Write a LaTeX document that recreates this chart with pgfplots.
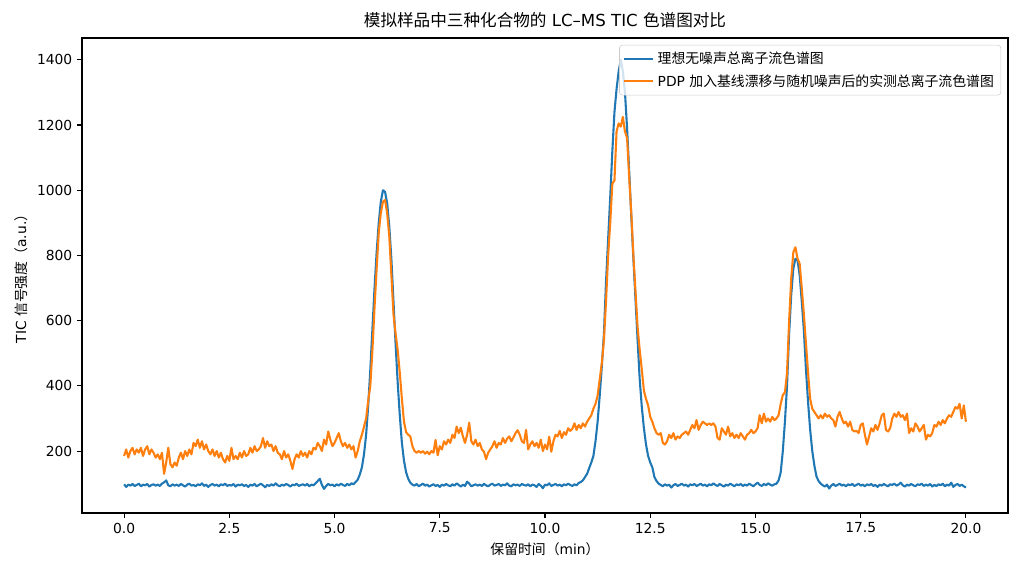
\documentclass[border=0pt]{standalone}
\usepackage{fontspec}
\setmainfont{DejaVu Sans}
\newfontfamily\cjk{Noto Sans CJK SC}
\usepackage{pgfplots}
\usepackage{pgfplotstable}
\pgfplotsset{compat=1.18}
\definecolor{c0}{HTML}{1F77B4}
\definecolor{c1}{HTML}{FF7F0E}
\pgfplotstableread{
x b o
0.00 98 185
0.05 90 205
0.10 97 180
0.15 94 200
0.20 99 210
0.25 93 190
0.30 96 205
0.35 100 195
0.40 92 210
0.45 97 185
0.50 95 205
0.55 99 215
0.60 91 190
0.65 96 205
0.70 98 195
0.75 94 180
0.80 97 190
0.85 93 175
0.90 100 195
0.95 104 130
1.00 110 165
1.05 95 210
1.10 92 160
1.15 98 150
1.20 94 165
1.25 97 155
1.30 93 180
1.35 99 195
1.40 95 175
1.45 91 200
1.50 97 185
1.55 100 205
1.60 94 190
1.65 96 225
1.70 92 215
1.75 98 235
1.80 95 210
1.85 101 230
1.90 93 205
1.95 97 220
2.00 90 200
2.05 96 190
2.10 99 205
2.15 94 185
2.20 97 200
2.25 92 180
2.30 98 195
2.35 95 175
2.40 100 165
2.45 93 185
2.50 96 170
2.55 94 210
2.60 99 175
2.65 91 185
2.70 97 175
2.75 95 195
2.80 98 180
2.85 93 200
2.90 96 185
2.95 90 190
3.00 97 210
3.05 94 195
3.10 99 215
3.15 92 200
3.20 96 205
3.25 100 215
3.30 95 240
3.35 89 210
3.40 96 230
3.45 93 215
3.50 98 220
3.55 94 200
3.60 101 215
3.65 95 195
3.70 92 190
3.75 97 175
3.80 94 200
3.85 99 180
3.90 96 190
3.95 91 170
4.00 97 145
4.05 95 175
4.10 100 190
4.15 93 180
4.20 96 200
4.25 98 185
4.30 94 195
4.35 99 180
4.40 92 200
4.45 97 190
4.50 95 210
4.55 101 205
4.60 108 225
4.65 115 215
4.70 96 200
4.75 84 235
4.80 93 220
4.85 99 260
4.90 95 235
4.95 97 215
5.00 92 225
5.05 98 240
5.10 94 255
5.15 100 230
5.20 96 215
5.25 93 225
5.30 99 210
5.35 95 220
5.40 101 205
5.45 98 215
5.50 105 180
5.55 112 200
5.60 128 230
5.65 150 250
5.70 190 275
5.75 250 300
5.80 340 355
5.85 450 400
5.90 575 510
5.95 700 640
6.00 810 760
6.05 900 870
6.10 965 930
6.15 1000 965
6.20 995 970
6.25 960 930
6.30 890 860
6.35 790 740
6.40 660 620
6.45 530 560
6.50 410 510
6.55 310 440
6.60 225 360
6.65 170 290
6.70 135 258
6.75 115 250
6.80 103 245
6.85 97 215
6.90 94 200
6.95 99 195
7.00 92 200
7.05 96 195
7.10 100 200
7.15 94 192
7.20 97 198
7.25 91 190
7.30 95 200
7.35 98 195
7.40 93 234
7.45 96 187
7.50 90 215
7.55 97 205
7.60 94 230
7.65 99 220
7.70 95 235
7.75 92 225
7.80 98 250
7.85 94 240
7.90 101 275
7.95 96 255
8.00 91 272
8.05 97 245
8.10 93 225
8.15 106 250
8.20 100 287
8.25 92 230
8.30 95 220
8.35 98 235
8.40 94 215
8.45 97 225
8.50 93 205
8.55 99 198
8.60 95 175
8.65 92 195
8.70 97 205
8.75 100 215
8.80 94 230
8.85 96 210
8.90 99 225
8.95 93 220
9.00 97 240
9.05 95 225
9.10 101 238
9.15 94 245
9.20 92 230
9.25 98 242
9.30 95 255
9.35 97 264
9.40 93 250
9.45 99 230
9.50 96 225
9.55 94 265
9.60 98 205
9.65 92 220
9.70 97 230
9.75 95 215
9.80 90 225
9.85 99 210
9.90 94 235
9.95 86 200
10.00 97 220
10.05 95 205
10.10 101 244
10.15 93 198
10.20 96 230
10.25 99 250
10.30 94 245
10.35 97 262
10.40 92 240
10.45 98 258
10.50 95 250
10.55 100 270
10.60 96 262
10.65 93 268
10.70 98 285
10.75 95 265
10.80 102 280
10.85 105 270
10.90 110 285
10.95 120 275
11.00 130 290
11.05 148 300
11.10 165 310
11.15 185 330
11.20 230 345
11.25 290 370
11.30 370 420
11.35 460 470
11.40 560 540
11.45 720 660
11.50 850 800
11.55 980 900
11.60 1120 1020
11.65 1240 1030
11.70 1310 1180
11.75 1365 1205
11.80 1400 1195
11.85 1365 1225
11.90 1300 1180
11.95 1190 1160
12.00 1060 1040
12.05 920 930
12.10 790 800
12.15 665 690
12.20 540 580
12.25 420 510
12.30 335 450
12.35 270 385
12.40 220 360
12.45 185 340
12.50 165 305
12.55 150 290
12.60 120 270
12.65 108 255
12.70 100 250
12.75 96 255
12.80 92 225
12.85 98 220
12.90 94 230
12.95 97 250
13.00 88 240
13.05 95 255
13.10 99 235
13.15 93 245
13.20 96 240
13.25 100 250
13.30 94 255
13.35 97 260
13.40 91 250
13.45 98 265
13.50 95 280
13.55 99 270
13.60 93 295
13.65 96 265
13.70 100 280
13.75 94 290
13.80 97 285
13.85 92 280
13.90 98 285
13.95 95 280
14.00 101 285
14.05 96 275
14.10 93 240
14.15 99 235
14.20 95 270
14.25 91 260
14.30 97 250
14.35 94 275
14.40 100 245
14.45 96 255
14.50 92 240
14.55 98 250
14.60 95 240
14.65 99 255
14.70 93 245
14.75 97 235
14.80 94 250
14.85 100 255
14.90 96 265
14.95 92 255
15.00 98 260
15.05 103 270
15.10 96 310
15.15 93 285
15.20 99 315
15.25 95 290
15.30 101 300
15.35 97 290
15.40 94 305
15.45 98 295
15.50 100 300
15.55 110 310
15.60 135 345
15.65 200 372
15.70 290 380
15.75 400 440
15.80 560 600
15.85 680 730
15.90 760 810
15.95 790 825
16.00 785 790
16.05 740 775
16.10 660 700
16.15 570 620
16.20 450 530
16.25 350 440
16.30 265 360
16.35 200 330
16.40 155 320
16.45 122 310
16.50 108 300
16.55 100 310
16.60 95 300
16.65 91 315
16.70 97 305
16.75 85 310
16.80 94 300
16.85 99 295
16.90 93 275
16.95 96 305
17.00 100 320
17.05 94 300
17.10 97 285
17.15 92 290
17.20 98 275
17.25 95 290
17.30 99 265
17.35 93 260
17.40 96 262
17.45 100 255
17.50 94 280
17.55 97 285
17.60 92 250
17.65 98 220
17.70 95 245
17.75 99 270
17.80 93 260
17.85 96 280
17.90 90 265
17.95 97 285
18.00 94 310
18.05 99 315
18.10 95 265
18.15 92 260
18.20 98 270
18.25 96 300
18.30 100 315
18.35 94 305
18.40 97 320
18.45 103 305
18.50 95 310
18.55 91 295
18.60 97 315
18.65 94 255
18.70 99 270
18.75 95 260
18.80 92 285
18.85 98 275
18.90 96 260
18.95 100 270
19.00 93 280
19.05 97 235
19.10 94 250
19.15 99 245
19.20 91 255
19.25 96 280
19.30 93 275
19.35 98 290
19.40 95 280
19.45 100 295
19.50 92 285
19.55 97 300
19.60 94 310
19.65 103 305
19.70 90 320
19.75 96 335
19.80 99 330
19.85 93 345
19.90 97 300
19.95 92 340
20.00 88 290
}\tic
\begin{document}
\begin{tikzpicture}
\path[use as bounding box] (0,0) rectangle (737.28bp,412.56bp);
\begin{axis}[
  at={(59.04bp,43.2bp)}, anchor=south west,
  scale only axis=true,
  width=666.72bp, height=342bp,
  xmin=-1, xmax=21, ymin=10, ymax=1467,
  xtick={0,2.5,5,7.5,10,12.5,15,17.5,20},
  ytick={200,400,600,800,1000,1200,1400},
  xticklabel style={/pgf/number format/.cd,fixed,fixed zerofill,precision=1},
  yticklabel style={/pgf/number format/.cd,fixed,precision=0,1000 sep={}},
  /pgf/number format/assume math mode=true,
  scaled ticks=false,
  tick label style={font=\fontsize{10}{12}\selectfont},
  label style={font=\fontsize{10}{12}\selectfont},
  tick align=outside, xtick pos=bottom, ytick pos=left,
  major tick length=3.5bp,
  tick style={black, line width=0.8bp},
  axis line style={line width=0.8bp},
  title={{\cjk 模拟样品中三种化合物的} LC–MS TIC {\cjk 色谱图对比}},
  title style={font=\fontsize{12}{14}\selectfont, yshift=-2bp},
  xlabel={{\cjk 保留时间（}min{\cjk ）}},
  ylabel={TIC {\cjk 信号强度（}a.u.{\cjk ）}},
  legend cell align=left,
  legend style={at={(1,1)}, xshift=-5bp, yshift=-5bp, anchor=north east,
    font=\fontsize{10}{12}\selectfont, draw=black!20, fill=white, fill opacity=0.8, text opacity=1,
    rounded corners=2pt, inner sep=2.5bp, row sep=1bp,
    nodes={inner sep=2.5bp}},
  legend image code/.code={\draw[#1] (0bp,0bp) -- (21bp,0bp);},
]
\addplot[c0, line width=1.5bp, line join=round] table[x=x, y=b]{\tic};
\addlegendentry{\cjk 理想无噪声总离子流色谱图}
\addplot[c1, line width=1.5bp, line join=round] table[x=x, y=o]{\tic};
\addlegendentry{PDP {\cjk 加入基线漂移与随机噪声后的实测总离子流色谱图}}
\end{axis}
\end{tikzpicture}
\end{document}
